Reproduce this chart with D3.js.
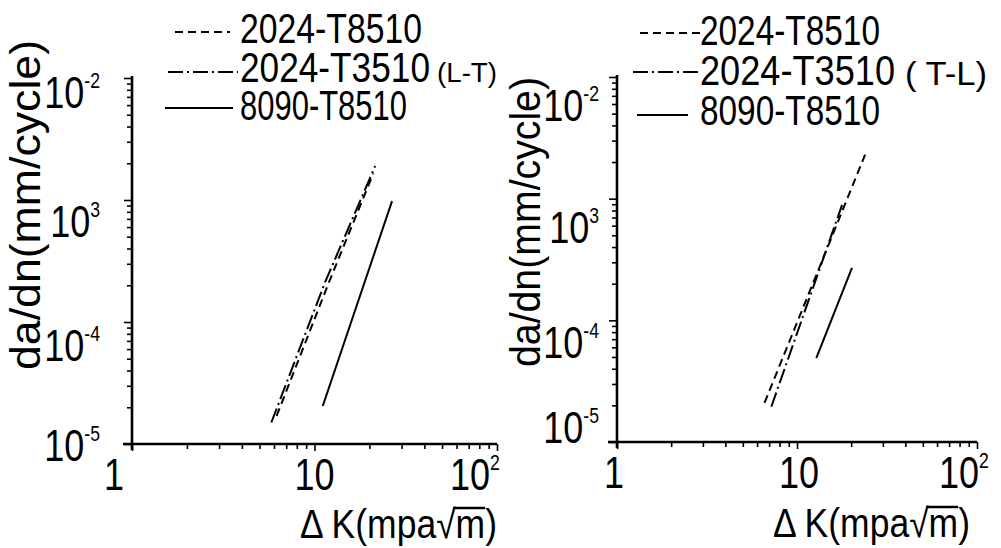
<!DOCTYPE html>
<html><head><meta charset="utf-8">
<script src="https://cdn.jsdelivr.net/npm/d3@7"></script>
<style>body{margin:0;background:#fff}svg{display:block}</style>
</head><body>
<svg id="c" width="1001" height="548"></svg>
<script>
// ---------- data ----------
const seriesNames = ["2024-T8510", "2024-T3510", "8090-T8510"];
const orientationLeft = "(L-T)";
const orientationRight = "( T-L)";
const xTickValues = [1, 10, 100];
const xTickBase = ["1", "10", "10"];
const xTickSup = ["", "", "2"];
const yTickValues = [1e-2, 1e-3, 1e-4, 1e-5];
const yTickBase = ["10", "10", "10", "10"];
const yTickSup = ["-2", "3", "-4", "-5"];
const yTitle = "da/dn(mm/cycle)";
const xTitleMain = "\u0394 K(mpa\u221A";
const xTitleRoot = "m";

// left panel (L-T)
const leftDashedK = [6.2, 11.9, 21.0];
const leftDashedRate = [1.7e-5, 2.05e-4, 1.65e-3];
const leftDashDotK = [5.8, 11.4, 21.5];
const leftDashDotRate = [1.5e-5, 2.1e-4, 1.9e-3];
const leftSolidK = [11.1, 26.6];
const leftSolidRate = [2.05e-5, 9.8e-4];

// right panel (T-L)
const rightDashedK = [6.6, 23.9];
const rightDashedRate = [2.1e-5, 2.3e-3];
const rightDashDotK = [7.2, 17.8];
const rightDashDotRate = [1.95e-5, 8.9e-4];
const rightSolidK = [12.8, 20.2];
const rightSolidRate = [4.9e-5, 2.7e-4];

// ---------- layout / style ----------
const FONT = "'Liberation Sans',Arial,sans-serif";
const SQ = 0.8; // horizontal squeeze for tick labels (narrow lettering)
const dashStyles = ["8,5", "15,4,2,4", null];
const svg = d3.select("#c");

const panels = [
  {
    xRange: [132, 497], yRange: [444, 78],
    series: [[leftDashedK, leftDashedRate], [leftDashDotK, leftDashDotRate], [leftSolidK, leftSolidRate]],
    yLabelEnd: 100, yLabelBase: [30, 37, 39, 17], xLabelNudge: [-18, 0, -22], xLabelBaseline: 490,
    yTitleX: 40, yTitleCenter: 205, yTitleLen: 330,
    xTitleX: 300, xTitleLen: 197, xTitleY: 538,
    legendLineX: [[175, 230], [168, 238], [165, 233]], legendLineY: [32, 72, 108],
    legendTextX: 240, legendBaseline: [43, 82, 120], legendTextLen: [182, 190, 167],
    orient: orientationLeft, orientX: 437, orientLen: 60, orientSize: 28
  },
  {
    xRange: [617, 977], yRange: [442, 77],
    series: [[rightDashedK, rightDashedRate], [rightDashDotK, rightDashDotRate], [rightSolidK, rightSolidRate]],
    yLabelEnd: 599, yLabelBase: [44, 44, 38, 1], xLabelNudge: [-3, 2, -13], xLabelBaseline: 488,
    yTitleX: 540, yTitleCenter: 222, yTitleLen: 290,
    xTitleX: 773, xTitleLen: 197, xTitleY: 537,
    legendLineX: [[640, 700], [633, 700], [637, 688]], legendLineY: [33, 72, 115],
    legendTextX: 700, legendBaseline: [45, 85, 125], legendTextLen: [180, 195, 180],
    orient: orientationRight, orientX: 905, orientLen: 82, orientSize: 34
  }
];

function minorValues(lo, hi) {
  const out = [];
  for (let e = Math.round(Math.log10(lo)); e < Math.round(Math.log10(hi)); e++)
    for (let d = 2; d <= 9; d++) out.push(d * Math.pow(10, e));
  return out;
}

panels.forEach(p => {
  const x = d3.scaleLog().domain([1, 100]).range(p.xRange);
  const y = d3.scaleLog().domain([1e-5, 1e-2]).range(p.yRange);
  const g = svg.append("g");
  const x0 = x(1), yB = y(1e-5);

  // axes: minor + major ticks via d3 axes
  const clean = s => s.select(".domain").remove();
  g.append("g").attr("transform", `translate(0,${yB})`)
    .call(d3.axisBottom(x).tickValues(minorValues(1, 100)).tickSize(5).tickFormat(""))
    .call(clean);
  g.append("g").attr("transform", `translate(0,${yB})`)
    .call(d3.axisBottom(x).tickValues(xTickValues).tickSize(7).tickFormat(""))
    .call(clean);
  g.append("g").attr("transform", `translate(${x0},0)`)
    .call(d3.axisLeft(y).tickValues(minorValues(1e-5, 1e-2)).tickSize(5).tickFormat(""))
    .call(clean);
  g.append("g").attr("transform", `translate(${x0},0)`)
    .call(d3.axisLeft(y).tickValues(yTickValues).tickSize(8).tickFormat(""))
    .call(clean);
  g.selectAll(".tick line").attr("stroke", "#000").attr("stroke-width", 1.6);

  // axis lines
  g.append("line").attr("x1", x0 - 9).attr("x2", x(100)).attr("y1", yB).attr("y2", yB)
    .attr("stroke", "#000").attr("stroke-width", 2.6);
  g.append("line").attr("x1", x0).attr("x2", x0).attr("y1", yB + 6).attr("y2", y(1e-2) - 2)
    .attr("stroke", "#000").attr("stroke-width", 2.6);

  // y tick labels
  yTickValues.forEach((v, i) => {
    const t = g.append("text")
      .attr("transform", `translate(${p.yLabelEnd},${y(v) + p.yLabelBase[i]}) scale(${SQ},1)`)
      .attr("text-anchor", "end").attr("font-family", FONT).attr("font-size", 45);
    t.append("tspan").text(yTickBase[i]);
    t.append("tspan").attr("font-size", 22).attr("dy", -20).text(yTickSup[i]);
  });
  // x tick labels
  xTickValues.forEach((v, i) => {
    const t = g.append("text")
      .attr("transform", `translate(${x(v) + p.xLabelNudge[i]},${p.xLabelBaseline}) scale(${SQ},1)`)
      .attr("text-anchor", "middle").attr("font-family", FONT).attr("font-size", 45);
    t.append("tspan").text(xTickBase[i]);
    if (xTickSup[i]) t.append("tspan").attr("font-size", 22).attr("dy", -20).text(xTickSup[i]);
  });

  // titles
  g.append("text").attr("transform", `translate(${p.yTitleX},${p.yTitleCenter}) rotate(-90)`)
    .attr("text-anchor", "middle").attr("font-family", FONT).attr("font-size", 43)
    .attr("textLength", p.yTitleLen).attr("lengthAdjust", "spacingAndGlyphs")
    .text(yTitle);
  const xt = g.append("text").attr("x", p.xTitleX).attr("y", p.xTitleY)
    .attr("font-family", FONT).attr("font-size", 40)
    .attr("textLength", p.xTitleLen).attr("lengthAdjust", "spacingAndGlyphs");
  xt.append("tspan").text(xTitleMain);
  xt.append("tspan").text(xTitleRoot);
  xt.append("tspan").text(")");
  // radical bar over the root argument
  const node = xt.node();
  const iRad = xTitleMain.length - 1;
  const eRad = node.getExtentOfChar(iRad);
  const eM = node.getExtentOfChar(iRad + 1);
  const barY = p.xTitleY - 30;
  g.append("line").attr("x1", eRad.x + eRad.width - 2).attr("x2", eM.x + eM.width)
    .attr("y1", barY).attr("y2", barY).attr("stroke", "#000").attr("stroke-width", 2.4);

  // data lines
  const line = d3.line().x(d => x(d[0])).y(d => y(d[1]));
  p.series.forEach((s, i) => {
    const pts = s[0].map((k, j) => [k, s[1][j]]);
    g.append("path").attr("d", line(pts)).attr("fill", "none").attr("stroke", "#000")
      .attr("stroke-width", 2).attr("stroke-dasharray", dashStyles[i]);
  });

  // legend
  seriesNames.forEach((name, i) => {
    g.append("line").attr("x1", p.legendLineX[i][0]).attr("x2", p.legendLineX[i][1])
      .attr("y1", p.legendLineY[i]).attr("y2", p.legendLineY[i])
      .attr("stroke", "#000").attr("stroke-width", 2).attr("stroke-dasharray", dashStyles[i]);
    g.append("text").attr("x", p.legendTextX).attr("y", p.legendBaseline[i])
      .attr("font-family", FONT).attr("font-size", 42)
      .attr("textLength", p.legendTextLen[i]).attr("lengthAdjust", "spacingAndGlyphs")
      .text(name);
  });
  g.append("text").attr("x", p.orientX).attr("y", p.legendBaseline[1])
    .attr("font-family", FONT).attr("font-size", p.orientSize)
    .attr("textLength", p.orientLen).attr("lengthAdjust", "spacingAndGlyphs")
    .text(p.orient);
});
</script>
</body></html>
